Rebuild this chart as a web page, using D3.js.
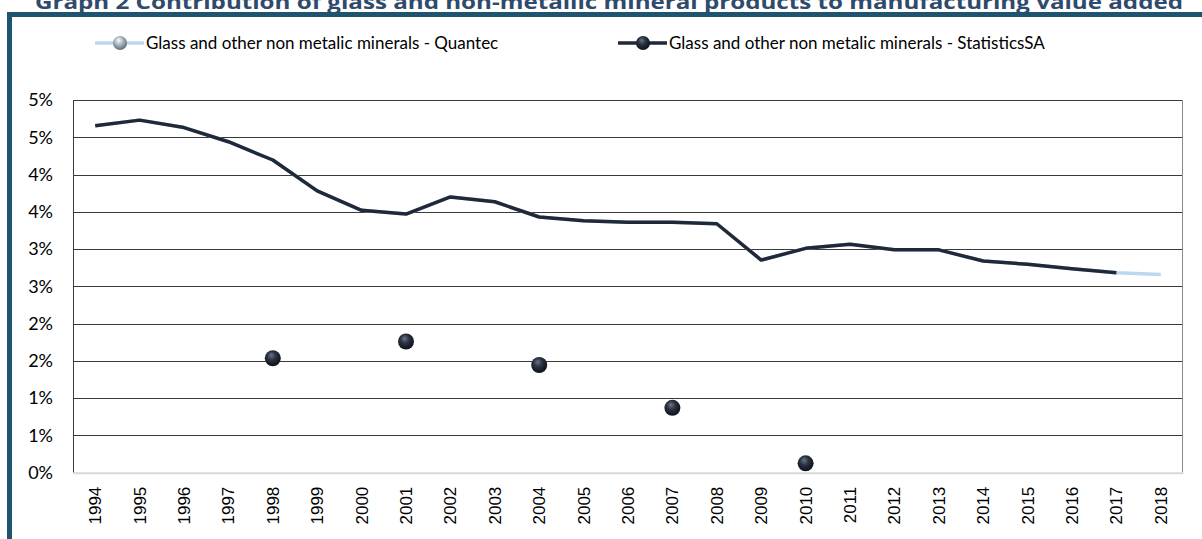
<!DOCTYPE html>
<html>
<head>
<meta charset="utf-8">
<script src="https://cdn.jsdelivr.net/npm/d3@7"></script>
<style>
  body { margin: 0; background: #fff; }
  svg { display: block; }
</style>
</head>
<body>
<div class="content"></div>
<script>
// chart data
const years = ['1994','1995','1996','1997','1998','1999','2000','2001','2002','2003','2004','2005','2006',
               '2007','2008','2009','2010','2011','2012','2013','2014','2015','2016','2017','2018'];
const quantec = [0.04655, 0.0473, 0.0463, 0.0444, 0.04195, 0.0378, 0.0352, 0.0347, 0.0370, 0.03635, 0.0343,
                 0.0338, 0.0336, 0.0336, 0.0334, 0.02853, 0.0301, 0.03064, 0.0299, 0.0299, 0.0284, 0.02796,
                 0.02737, 0.02683, 0.0266];
const statsSALine = [0.04655, 0.0473, 0.0463, 0.0444, 0.04195, 0.0378, 0.0352, 0.0347, 0.0370, 0.03635, 0.0343,
                     0.0338, 0.0336, 0.0336, 0.0334, 0.02853, 0.0301, 0.03064, 0.0299, 0.0299, 0.0284, 0.02796,
                     0.02737, 0.02683, null];
const statsSAPoints = [null, null, null, null, 0.01535, null, null, 0.0176, null, null, 0.01445, null, null,
                       0.0087, null, null, 0.00126, null, null, null, null, null, null, null, null];
const yTicks = [0, 0.005, 0.01, 0.015, 0.02, 0.025, 0.03, 0.035, 0.04, 0.045, 0.05];
const yTickLabels = ['0%','1%','1%','2%','2%','3%','3%','4%','4%','5%','5%'];
const seriesNames = ['Glass and other non metalic minerals - Quantec', 'Glass and other non metalic minerals - StatisticsSA'];
const title = 'Graph 2 Contribution of glass and non-metallic mineral products to manufacturing value added';

function main() {
  const svgW = 1202, svgH = 539;
  const plot = { left: 73, right: 1183, top: 100, bottom: 472.7 };
  const darkCol = '#1f2937', lightCol = '#bdd7ee', frameCol = '#1f5470';

  const svg = d3.select('.content').append('svg')
                .attr('width', svgW)
                .attr('height', svgH);

  // sphere gradients for the markers
  const defs = svg.append('defs');
  const gDark = defs.append('radialGradient').attr('id', 'sphereDark')
                    .attr('cx', '45%').attr('cy', '40%').attr('r', '60%').attr('fx', '40%').attr('fy', '30%');
  gDark.append('stop').attr('offset', '0%').attr('stop-color', '#6b7585');
  gDark.append('stop').attr('offset', '45%').attr('stop-color', '#2a3342');
  gDark.append('stop').attr('offset', '100%').attr('stop-color', '#0c1118');
  const gLight = defs.append('radialGradient').attr('id', 'sphereLight')
                     .attr('cx', '45%').attr('cy', '40%').attr('r', '60%').attr('fx', '40%').attr('fy', '30%');
  gLight.append('stop').attr('offset', '0%').attr('stop-color', '#ffffff');
  gLight.append('stop').attr('offset', '50%').attr('stop-color', '#aab4bf');
  gLight.append('stop').attr('offset', '100%').attr('stop-color', '#5d6b79');

  // title (cut at the top as in the source) and the frame
  svg.append('text')
     .attr('x', 609).attr('y', 9)
     .attr('text-anchor', 'middle')
     .attr('textLength', 1148).attr('lengthAdjust', 'spacingAndGlyphs')
     .style('font-family', '"Open Sans", sans-serif')
     .style('font-weight', 'bold').style('font-size', '20px')
     .attr('fill', '#2e4a6c')
     .text(title);
  svg.append('rect')
     .attr('x', 9.5).attr('y', 14.5)
     .attr('width', 1250).attr('height', 600)
     .attr('fill', 'none').attr('stroke', frameCol).attr('stroke-width', 5);

  // scales
  const x = d3.scaleBand().domain(years).range([plot.left, plot.right]).padding(0);
  const y = d3.scaleLinear().domain([0, 0.05]).range([plot.bottom, plot.top]);
  const cx = (d) => x(d) + x.bandwidth() / 2;

  // gridlines
  svg.append('g')
     .selectAll('line').data(yTicks.slice(1)).join('line')
     .attr('x1', plot.left).attr('x2', plot.right)
     .attr('y1', (d) => Math.round(y(d)) + 0.5).attr('y2', (d) => Math.round(y(d)) + 0.5)
     .attr('stroke', '#3a3a3a').attr('stroke-width', 1);
  // frame of the plot area
  svg.append('line')
     .attr('x1', plot.left + 0.5).attr('x2', plot.left + 0.5)
     .attr('y1', plot.top).attr('y2', plot.bottom)
     .attr('stroke', '#3a3a3a');
  svg.append('line')
     .attr('x1', plot.right - 0.5).attr('x2', plot.right - 0.5)
     .attr('y1', plot.top).attr('y2', plot.bottom)
     .attr('stroke', '#8a8a8a');

  // y axis
  const yAxis = svg.append('g')
     .attr('transform', 'translate(' + (plot.left - 20) + ',0)')
     .call(d3.axisLeft(y).tickValues(yTicks).tickSize(0)
             .tickFormat((d, i) => yTickLabels[i]));
  yAxis.select('.domain').remove();
  yAxis.selectAll('text')
       .attr('x', 0).attr('fill', '#000')
       .style('font-family', 'Lato, sans-serif').style('font-size', '18px');

  // x axis
  const xAxis = svg.append('g')
     .attr('transform', 'translate(0,' + plot.bottom + ')')
     .call(d3.axisBottom(x).tickSize(0));
  xAxis.select('.domain').attr('stroke', '#d9d9d9').attr('stroke-width', 2);
  xAxis.selectAll('text')
       .attr('transform', 'rotate(-90)')
       .attr('x', -14).attr('y', 0).attr('dy', '0.35em')
       .attr('text-anchor', 'end').attr('fill', '#000')
       .style('font-family', '"Liberation Sans", Arial, sans-serif').style('font-size', '17px');

  // lines
  const line = d3.line()
                 .defined((d) => d !== null)
                 .x((d, i) => cx(years[i]))
                 .y((d) => y(d));
  svg.append('path').datum(quantec)
     .attr('d', line)
     .attr('fill', 'none').attr('stroke', lightCol).attr('stroke-width', 3.5)
     .attr('stroke-linejoin', 'round');
  svg.append('path').datum(statsSALine)
     .attr('d', line)
     .attr('fill', 'none').attr('stroke', darkCol).attr('stroke-width', 3.5)
     .attr('stroke-linejoin', 'round');

  // StatisticsSA points
  const pts = statsSAPoints.map((v, i) => ({ year: years[i], v: v })).filter((d) => d.v !== null);
  svg.append('g').selectAll('circle').data(pts).join('circle')
     .attr('cx', (d) => cx(d.year)).attr('cy', (d) => y(d.v))
     .attr('r', 8)
     .attr('fill', 'url(#sphereDark)');

  // legend
  const legend = [
    { name: seriesNames[0], x: 95, line: lightCol, ball: 'url(#sphereLight)' },
    { name: seriesNames[1], x: 618, line: darkCol, ball: 'url(#sphereDark)' }
  ];
  const lg = svg.append('g').selectAll('g').data(legend).join('g')
                .attr('transform', (d) => 'translate(' + d.x + ',43)');
  lg.append('line')
    .attr('x1', 0).attr('x2', 49).attr('y1', 0).attr('y2', 0)
    .attr('stroke', (d) => d.line).attr('stroke-width', 3.5);
  lg.append('circle')
    .attr('cx', 25).attr('cy', 0).attr('r', 7)
    .attr('fill', (d) => d.ball);
  lg.append('text')
    .attr('x', 51).attr('y', 0).attr('dy', '0.35em')
    .style('font-family', 'Lato, sans-serif').style('font-size', '17px')
    .attr('fill', '#000')
    .text((d) => d.name);
}
main();
</script>
</body>
</html>
